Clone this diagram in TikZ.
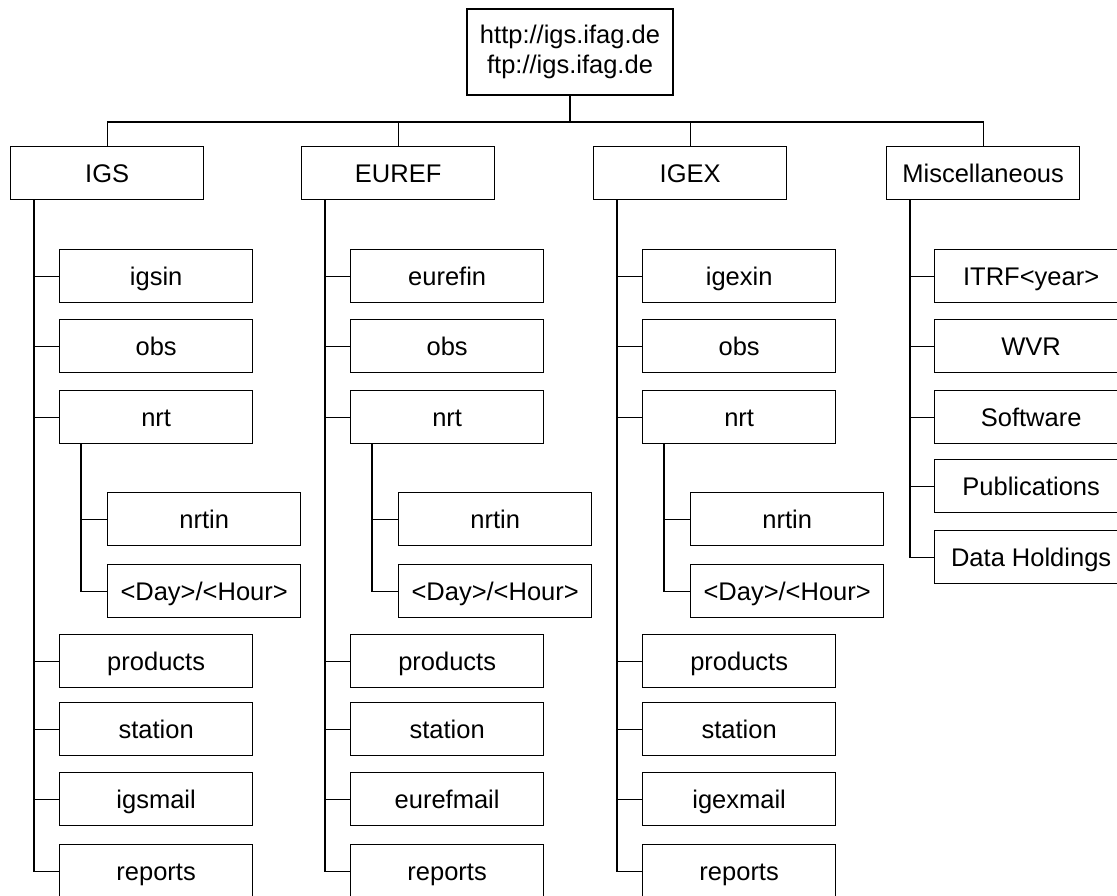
\documentclass[tikz,border=0pt]{standalone}
\usepackage{fontspec}
\setmainfont{Liberation Sans}
\begin{document}
\begin{tikzpicture}[x=1pt,y=1pt,
  every node/.style={font=\fontsize{25.5}{30}\selectfont},
  box/.style={draw=black, line width=1.3pt, minimum width=193pt, minimum height=53pt, inner sep=0pt, text height=21pt, text depth=3pt, anchor=north west},
  rootbox/.style={draw=black, line width=1.3pt, minimum width=206pt, minimum height=86pt, inner sep=0pt, align=center},
  link/.style={draw=black, line width=1.3pt}]
\useasboundingbox (0,0) rectangle (1117,-895);
% root
\node[rootbox] (root) at (570,-52) {http://igs.ifag.de\\ftp://igs.ifag.de};
\coordinate (bus) at (568,-122);
% three main columns
\foreach \c/\x/\T/\p in {a/10/IGS/igs, b/301/EUREF/euref, c/593/IGEX/igex}{
  \node[box] (\c-top) at (\x,-146) {\T};
  \node[box] (\c-in) at (\x+49,-249) {\p in};
  \node[box] (\c-obs) at (\x+49,-319) {obs};
  \node[box] (\c-nrt) at (\x+49,-390) {nrt};
  \node[box] (\c-nrtin) at (\x+97,-492) {nrtin};
  \node[box] (\c-day) at (\x+97,-564) {<Day>/<Hour>};
  \node[box] (\c-prod) at (\x+49,-634) {products};
  \node[box] (\c-sta) at (\x+49,-702) {station};
  \node[box] (\c-mail) at (\x+49,-772) {\p mail};
  \node[box] (\c-rep) at (\x+49,-844) {reports};
  \draw[link] (root.south) -- (root.south |- bus) -| (\c-top.north);
  \foreach \k in {in,obs,nrt,prod,sta,mail,rep}{
    \draw[link] ([xshift=24pt]\c-top.south west) |- (\c-\k.west);
  }
  \foreach \k in {nrtin,day}{
    \draw[link] ([xshift=22pt]\c-nrt.south west) |- (\c-\k.west);
  }
}
% miscellaneous column
\node[box] (m-top) at (886,-146) {Miscellaneous};
\node[box] (m-itrf) at (934,-249) {ITRF<year>};
\node[box] (m-wvr) at (934,-319) {WVR};
\node[box] (m-soft) at (934,-390) {Software};
\node[box] (m-pub) at (934,-459) {Publications};
\node[box] (m-data) at (934,-530) {Data Holdings};
\draw[link] (root.south) -- (root.south |- bus) -| (m-top.north);
\foreach \k in {itrf,wvr,soft,pub,data}{
  \draw[link] ([xshift=24pt]m-top.south west) |- (m-\k.west);
}
\end{tikzpicture}
\end{document}
